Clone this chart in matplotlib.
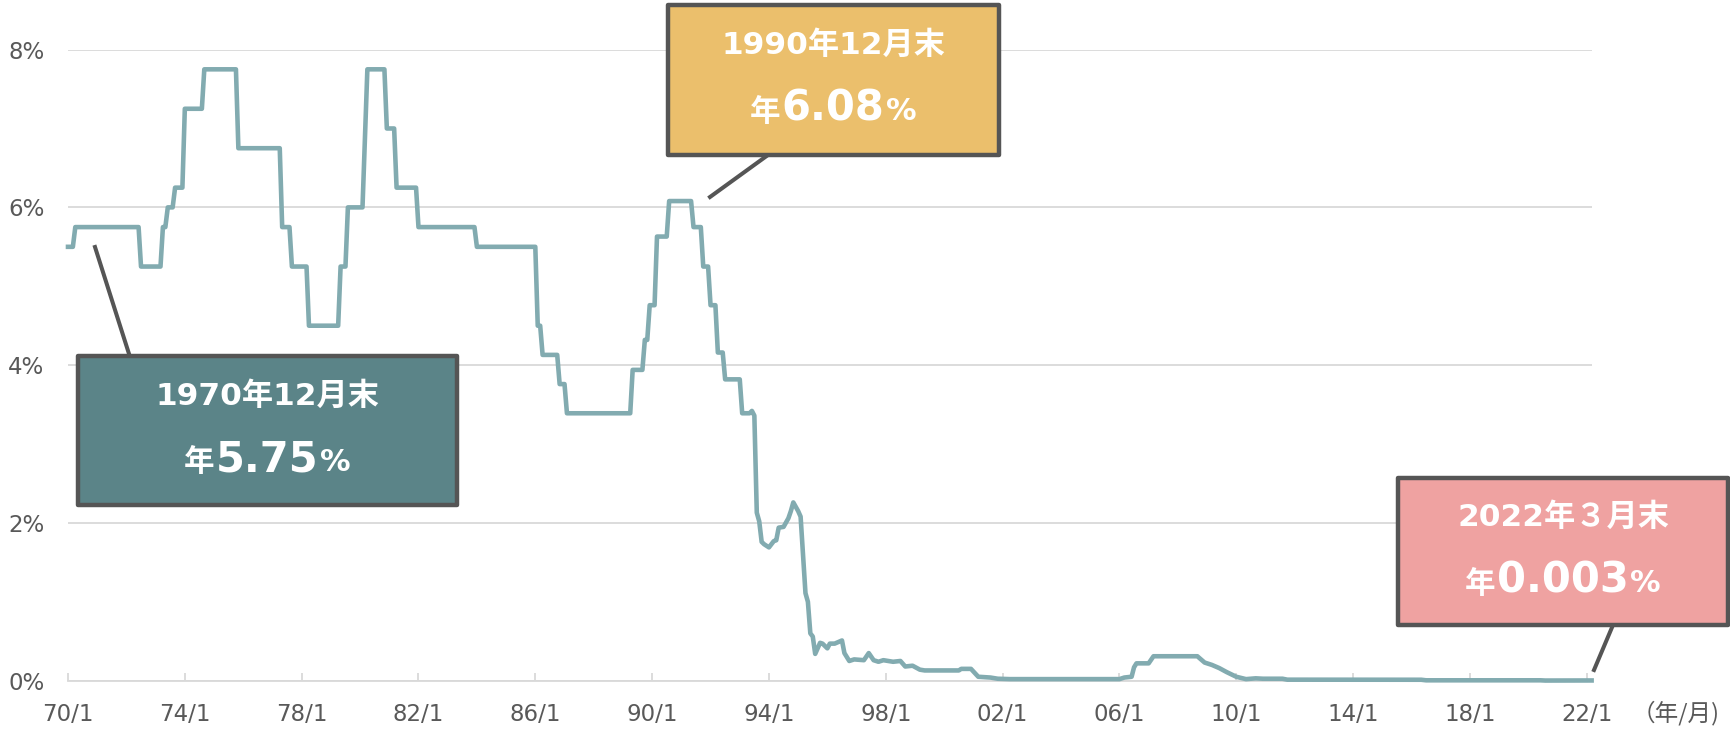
import matplotlib
matplotlib.use("Agg")
import matplotlib.pyplot as plt
from matplotlib.patches import Rectangle
from matplotlib.lines import Line2D
from matplotlib.offsetbox import TextArea, HPacker, AnnotationBbox

plt.rcParams['font.family'] = ['DejaVu Sans', 'Noto Sans CJK JP']

# vertices of the rate line (year/month, % per year)
months = [
    "1970/01", "1970/03", "1970/04", "1972/06", "1972/07", "1973/03", "1973/04",
    "1973/05", "1973/06", "1973/08", "1973/09", "1973/12", "1974/01", "1974/08",
    "1974/09", "1975/10", "1975/11", "1977/04", "1977/05", "1977/08", "1977/09",
    "1978/03", "1978/04", "1979/04", "1979/05", "1979/07", "1979/08", "1980/02",
    "1980/04", "1980/11", "1980/12", "1981/03", "1981/04", "1981/12", "1982/01",
    "1983/12", "1984/01", "1986/01", "1986/02", "1986/03", "1986/04", "1986/10",
    "1986/11", "1987/01", "1987/02", "1989/04", "1989/05", "1989/09", "1989/10",
    "1989/11", "1989/12", "1990/02", "1990/03", "1990/07", "1990/08", "1991/05",
    "1991/06", "1991/09", "1991/10", "1991/12", "1992/01", "1992/03", "1992/04",
    "1992/06", "1992/07", "1993/01", "1993/02", "1993/05", "1993/06", "1993/07",
    "1993/08", "1993/09", "1993/10", "1993/11", "1994/01", "1994/03", "1994/04",
    "1994/05", "1994/07", "1994/09", "1994/10", "1994/11", "1995/01", "1995/02",
    "1995/04", "1995/05", "1995/06", "1995/07", "1995/08", "1995/10", "1995/11",
    "1996/01", "1996/02", "1996/04", "1996/07", "1996/08", "1996/10", "1996/12",
    "1997/04", "1997/06", "1997/08", "1997/10", "1997/12", "1998/02", "1998/04",
    "1998/07", "1998/09", "1998/12", "1999/03", "1999/05", "2000/07", "2000/08",
    "2000/12", "2001/03", "2001/08", "2001/11", "2002/04", "2006/01", "2006/03",
    "2006/06", "2006/07", "2006/08", "2007/01", "2007/03", "2008/09", "2008/12",
    "2009/03", "2009/06", "2009/09", "2010/01", "2010/05", "2010/09", "2010/12",
    "2011/08", "2011/10", "2016/05", "2016/07", "2020/06", "2020/08", "2022/03",
]
rates = [
    5.50, 5.50, 5.75, 5.75, 5.25, 5.25, 5.75,
    5.75, 6.00, 6.00, 6.25, 6.25, 7.25, 7.25,
    7.75, 7.75, 6.75, 6.75, 5.75, 5.75, 5.25,
    5.25, 4.50, 4.50, 5.25, 5.25, 6.00, 6.00,
    7.75, 7.75, 7.00, 7.00, 6.25, 6.25, 5.75,
    5.75, 5.50, 5.50, 4.50, 4.50, 4.13, 4.13,
    3.76, 3.76, 3.39, 3.39, 3.94, 3.94, 4.32,
    4.32, 4.76, 4.76, 5.63, 5.63, 6.08, 6.08,
    5.75, 5.75, 5.25, 5.25, 4.76, 4.76, 4.16,
    4.16, 3.82, 3.82, 3.39, 3.39, 3.42, 3.36,
    2.13, 2.02, 1.76, 1.73, 1.69, 1.77, 1.78,
    1.94, 1.95, 2.06, 2.15, 2.26, 2.15, 2.08,
    1.11, 1.00, 0.60, 0.56, 0.34, 0.48, 0.47,
    0.41, 0.47, 0.47, 0.51, 0.35, 0.25, 0.27,
    0.26, 0.35, 0.26, 0.24, 0.26, 0.25, 0.24,
    0.25, 0.18, 0.19, 0.14, 0.13, 0.13, 0.15,
    0.15, 0.05, 0.04, 0.025, 0.02, 0.02, 0.04,
    0.05, 0.17, 0.22, 0.22, 0.31, 0.31, 0.23,
    0.20, 0.16, 0.11, 0.05, 0.02, 0.03, 0.025,
    0.025, 0.013, 0.012, 0.005, 0.005, 0.002, 0.003,
]

tick_years = [1970, 1974, 1978, 1982, 1986, 1990, 1994, 1998, 2002, 2006, 2010, 2014, 2018, 2022]
tick_labels = ["70/1", "74/1", "78/1", "82/1", "86/1", "90/1", "94/1", "98/1",
               "02/1", "06/1", "10/1", "14/1", "18/1", "22/1"]
y_ticks = [0, 2, 4, 6, 8]
y_labels = ["0%", "2%", "4%", "6%", "8%"]

LINE = "#82abb0"
GRID = "#d9d9d9"
TXT = "#595959"
EDGE = "#555555"

W, H = 1730, 736
fig = plt.figure(figsize=(W / 100, H / 100), dpi=100)


def fx(x):
    return x / W


def fy(y):
    return 1 - y / H


ax = fig.add_axes([fx(68), fy(680.7), (1592 - 68) / W, (680.7 - 49.6) / H])

years = [int(m[:4]) + (int(m[5:]) - 1) / 12 for m in months]
ax.plot(years, rates, color=LINE, lw=3.3, solid_joinstyle="round", clip_on=False, zorder=3)

ax.set_xlim(1970, 2022.18)
ax.set_ylim(0, 8)
ax.set_xticks(tick_years)
ax.set_xticklabels(tick_labels)
ax.set_yticks(y_ticks)
ax.set_yticklabels(y_labels)

ax.yaxis.grid(True, color=GRID, lw=1.3)
ax.set_axisbelow(True)
for s in ["top", "right", "left"]:
    ax.spines[s].set_visible(False)
ax.spines["bottom"].set_color(GRID)
ax.spines["bottom"].set_linewidth(1.3)

ax.tick_params(axis="y", length=0, pad=17, labelsize=16.5, labelcolor=TXT)
ax.tick_params(axis="x", direction="in", length=6, width=1.3, color=GRID,
               pad=16, labelsize=16.5, labelcolor=TXT)

# unit label; closing paren is half width so the text stays inside the figure
fig.text(fx(1676), fy(713), "（年/月)", ha="center", va="center",
         fontsize=17, color=TXT, family=["Noto Sans CJK JP", "DejaVu Sans"])


def callout(box, color, head, value, leader):
    x0, y0, x1, y1 = box
    fig.add_artist(Rectangle((fx(x0), fy(y1)), (x1 - x0) / W, (y1 - y0) / H,
                             transform=fig.transFigure, facecolor=color,
                             edgecolor=EDGE, lw=3.2, joinstyle="round", zorder=5))
    (lx0, ly0), (lx1, ly1) = leader
    fig.add_artist(Line2D([fx(lx0), fx(lx1)], [fy(ly0), fy(ly1)],
                          transform=fig.transFigure, color=EDGE, lw=2.9, zorder=4))
    cx = (x0 + x1) / 2
    fig.text(fx(cx), fy(y0 + 40), head, ha="center", va="center", fontsize=22.5,
             fontweight="bold", color="white", zorder=6)
    small = dict(fontsize=22, fontweight="bold", color="white")
    big = dict(fontsize=30, fontweight="bold", color="white")
    row = HPacker(children=[TextArea("年", textprops=small),
                            TextArea(value, textprops=big),
                            TextArea("%", textprops=small)],
                  align="baseline", pad=0, sep=1)
    ab = AnnotationBbox(row, (fx(cx), fy(y0 + 103)), xycoords="figure fraction",
                        frameon=False, box_alignment=(0.5, 0.5), zorder=6)
    fig.add_artist(ab)


callout((78, 356, 457, 505), "#5b8488", "1970年12月末", "5.75", ((95, 247), (130, 357)))
callout((668, 5.5, 998.5, 154.5), "#ebbf6c", "1990年12月末", "6.08", ((710, 197), (768, 155)))
callout((1398, 477.5, 1728, 624.5), "#efa2a1", "2022年３月末", "0.003", ((1594, 670), (1613, 625)))

fig.savefig("out.png", dpi=100)
